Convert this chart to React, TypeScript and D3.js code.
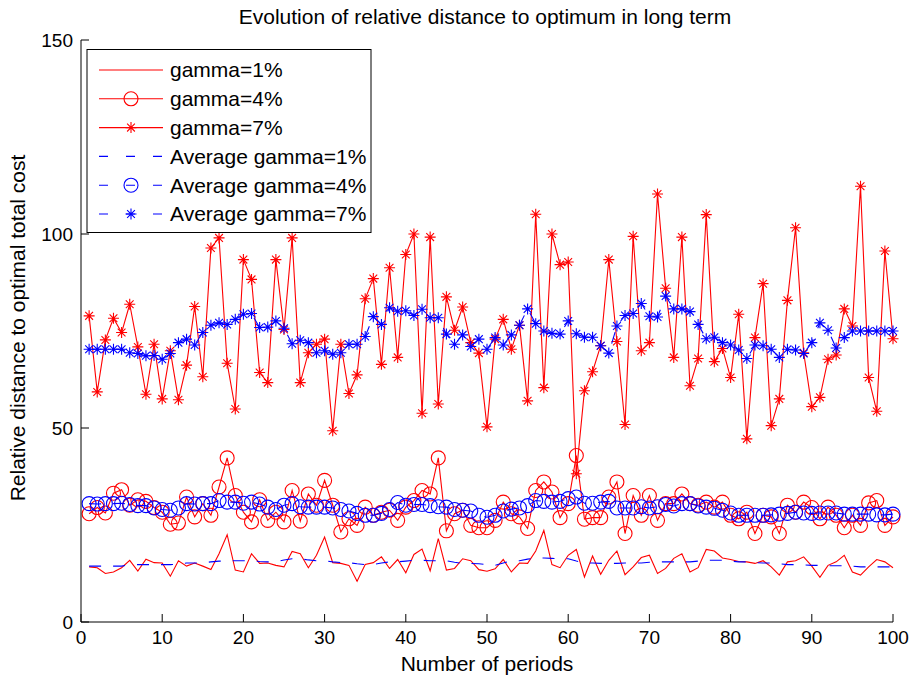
import { useEffect, useRef } from 'react';
import * as d3 from 'd3';

// values, periods 1..100
const gamma1 = [
  14.2, 14.0, 12.5, 12.9, 14.0, 15.9, 13.1, 16.2, 15.3, 15.2,
  11.8, 15.8, 14.4, 15.2, 14.4, 13.5, 17.6, 22.5, 13.4, 12.9,
  17.6, 15.1, 15.2, 14.6, 14.2, 18.2, 17.6, 14.0, 17.2, 21.9,
  15.3, 15.1, 14.6, 10.5, 14.8, 15.3, 16.8, 13.8, 16.1, 12.7,
  17.4, 18.8, 13.2, 21.5, 13.4, 13.8, 16.3, 15.8, 13.5, 13.1,
  13.7, 16.1, 12.9, 15.2, 15.1, 18.3, 23.6, 14.8, 14.0, 17.2,
  18.7, 11.6, 17.0, 12.3, 15.9, 18.3, 12.2, 14.2, 16.6, 17.2,
  12.5, 13.8, 16.4, 17.6, 12.9, 14.0, 18.7, 18.3, 16.5, 16.1,
  15.6, 15.5, 15.1, 15.8, 14.2, 12.1, 15.5, 15.8, 16.8, 14.4,
  11.5, 14.6, 15.5, 17.2, 12.9, 12.1, 14.2, 16.1, 15.5, 14.0,
];

const gamma4 = [
  27.9, 29.5, 28.1, 33.2, 34.1, 30.1, 31.5, 31.1, 29.5, 28.3,
  25.2, 25.5, 32.2, 27.1, 30.5, 27.5, 34.8, 42.3, 32.6, 28.3,
  25.8, 31.5, 26.2, 28.3, 25.8, 33.9, 26.0, 33.0, 30.1, 36.5,
  30.1, 23.2, 26.6, 24.9, 29.6, 27.5, 28.3, 28.8, 26.2, 29.6,
  31.3, 33.9, 33.0, 42.3, 23.5, 27.9, 28.8, 24.9, 24.3, 24.3,
  26.2, 30.9, 27.9, 27.1, 24.1, 33.9, 36.1, 33.5, 26.9, 30.5,
  42.9, 26.5, 26.9, 26.9, 32.2, 36.1, 22.8, 32.6, 27.5, 32.6,
  26.2, 30.5, 30.5, 33.0, 30.5, 30.1, 30.9, 29.6, 30.9, 27.5,
  26.6, 28.3, 22.8, 27.5, 27.1, 22.8, 30.1, 28.3, 30.9, 29.5,
  26.6, 29.6, 27.5, 24.3, 27.5, 24.9, 30.7, 31.3, 24.9, 27.1,
];

const gamma7 = [
  78.9, 59.3, 72.7, 78.3, 74.6, 81.9, 70.9, 58.7, 71.6, 57.5,
  69.9, 57.3, 66.2, 81.3, 63.2, 96.4, 99.0, 66.7, 54.9, 93.4,
  88.3, 64.3, 61.7, 93.4, 75.4, 99.0, 61.7, 69.4, 71.6, 72.9,
  49.3, 71.6, 58.9, 63.7, 83.3, 88.5, 66.4, 91.3, 68.2, 94.7,
  100.0, 53.8, 99.2, 56.2, 83.8, 75.2, 81.2, 72.0, 69.3, 50.3,
  72.9, 78.0, 70.3, 76.5, 57.0, 105.1, 60.4, 100.0, 92.1, 92.8,
  38.2, 59.6, 64.5, 71.2, 93.4, 72.3, 50.9, 99.4, 69.9, 72.0,
  110.3, 86.0, 68.2, 99.2, 60.9, 67.9, 105.0, 67.1, 70.5, 63.0,
  79.3, 47.2, 73.3, 87.2, 50.6, 57.5, 82.9, 101.6, 69.4, 55.5,
  57.9, 67.7, 68.8, 80.7, 76.3, 112.3, 63.0, 54.3, 95.6, 73.0,
];

const avg1 = [
  14.4, 14.4, 14.4, 14.4, 14.4, 14.8, 14.8, 14.8, 14.8, 14.8,
  14.8, 14.9, 15.2, 15.2, 15.2, 15.5, 15.7, 15.7, 15.8, 15.8,
  15.8, 15.6, 15.5, 15.5, 16.0, 16.3, 16.3, 16.0, 15.8, 15.8,
  15.5, 15.3, 15.3, 15.0, 14.8, 14.8, 15.2, 15.5, 15.5, 15.7,
  15.9, 15.9, 15.8, 15.8, 15.8, 15.4, 15.1, 15.1, 15.0, 14.8,
  14.6, 15.2, 15.8, 15.8, 16.2, 16.5, 16.5, 16.4, 16.3, 16.3,
  15.7, 15.2, 15.2, 15.1, 15.1, 15.1, 15.2, 15.2, 15.2, 15.4,
  15.5, 15.5, 15.5, 15.5, 15.5, 15.7, 15.9, 15.9, 15.9, 15.7,
  15.5, 15.5, 15.3, 15.2, 15.2, 15.0, 14.8, 14.8, 14.7, 14.6,
  14.6, 14.5, 14.5, 14.5, 14.4, 14.2, 14.2, 14.2, 14.2, 14.2,
];

const avg4 = [
  30.5, 30.4, 30.5, 30.5, 30.6, 30.3, 30.0, 30.0, 29.4, 29.0,
  28.8, 29.4, 30.5, 30.4, 30.5, 30.5, 31.3, 30.9, 30.9, 30.6,
  30.9, 30.4, 29.6, 29.0, 30.1, 30.5, 29.7, 29.6, 29.6, 29.6,
  29.4, 29.0, 28.6, 28.0, 27.5, 27.5, 28.0, 29.0, 30.8, 30.1,
  30.3, 30.3, 30.0, 29.7, 29.6, 29.0, 28.8, 28.6, 27.5, 27.0,
  27.5, 28.6, 29.1, 29.4, 30.0, 31.3, 31.1, 30.9, 31.1, 31.8,
  32.2, 30.6, 30.6, 30.9, 31.1, 29.4, 29.4, 29.4, 29.7, 29.4,
  29.7, 30.3, 29.9, 30.5, 30.5, 29.9, 29.6, 29.3, 28.8, 28.1,
  27.5, 27.5, 27.5, 27.5, 27.6, 27.8, 28.0, 28.3, 28.1, 28.0,
  28.1, 28.1, 28.1, 27.8, 27.8, 27.8, 27.8, 27.6, 27.6, 27.8,
];

const avg7 = [
  70.3, 70.3, 70.3, 70.3, 70.3, 69.4, 69.2, 68.6, 68.7, 67.7,
  69.2, 72.0, 72.9, 71.4, 74.6, 76.5, 77.1, 76.7, 78.0, 79.3,
  79.5, 75.9, 76.0, 77.6, 75.7, 71.7, 72.6, 72.0, 69.4, 69.9,
  69.0, 69.4, 71.6, 71.6, 73.6, 78.7, 76.7, 81.0, 80.1, 80.2,
  79.0, 80.6, 78.4, 78.4, 74.2, 71.6, 74.0, 71.0, 72.9, 70.3,
  73.3, 71.4, 74.0, 76.5, 80.7, 76.9, 75.0, 74.4, 74.2, 77.6,
  74.3, 73.4, 73.4, 71.2, 69.3, 76.3, 79.0, 79.5, 82.1, 78.8,
  78.6, 84.0, 80.7, 80.7, 80.0, 76.7, 73.0, 73.4, 72.0, 71.4,
  70.1, 67.9, 71.4, 71.2, 70.3, 68.2, 70.3, 70.1, 69.2, 72.0,
  77.1, 75.2, 70.6, 73.3, 75.0, 75.0, 75.0, 75.0, 75.0, 75.0,
];

const seriesNames = [
  'gamma=1%', 'gamma=4%', 'gamma=7%',
  'Average gamma=1%', 'Average gamma=4%', 'Average gamma=7%',
];
const xTicks = [0, 10, 20, 30, 40, 50, 60, 70, 80, 90, 100];
const yTicks = [0, 50, 100, 150];

const FONT = '"Liberation Sans", Arial, Helvetica, sans-serif';

function starPath(r: number) {
  const d = r / Math.SQRT2;
  return `M${-r},0H${r}M0,${-r}V${r}M${-d},${-d}L${d},${d}M${-d},${d}L${d},${-d}`;
}

export default function App() {
  const svgRef = useRef<SVGSVGElement>(null);
  const width = 912;
  const height = 682;

  useEffect(() => {
    document.body.style.margin = '0';
    const svg = d3.select(svgRef.current);
    svg.selectAll('*').remove();

    const left = 81, right = 893, top = 40, bottom = 622;
    const x = d3.scaleLinear().domain([0, 100]).range([left, right]);
    const y = d3.scaleLinear().domain([0, 150]).range([bottom, top]);

    const series = [
      { name: seriesNames[0], values: gamma1, color: '#ff0000', dash: null, marker: null },
      { name: seriesNames[1], values: gamma4, color: '#ff0000', dash: null, marker: 'circle' },
      { name: seriesNames[2], values: gamma7, color: '#ff0000', dash: null, marker: 'star' },
      { name: seriesNames[3], values: avg1, color: '#0000ff', dash: '12,12', marker: null },
      { name: seriesNames[4], values: avg4, color: '#0000ff', dash: '12,12', marker: 'circle' },
      { name: seriesNames[5], values: avg7, color: '#0000ff', dash: '12,12', marker: 'star' },
    ];

    const line = d3.line<number>()
      .x((_, i) => x(i + 1))
      .y(d => y(d));

    const plot = svg.append('g');

    series.forEach(s => {
      const g = plot.append('g');
      g.append('path')
        .attr('d', line(s.values))
        .attr('fill', 'none')
        .attr('stroke', s.color)
        .attr('stroke-width', 1.1)
        .attr('stroke-dasharray', s.dash);

      if (s.marker === 'circle') {
        g.selectAll('circle')
          .data(s.values)
          .enter().append('circle')
          .attr('cx', (_, i) => x(i + 1))
          .attr('cy', d => y(d))
          .attr('r', 7)
          .attr('fill', 'none')
          .attr('stroke', s.color)
          .attr('stroke-width', 1.1);
      } else if (s.marker === 'star') {
        g.selectAll('path.m')
          .data(s.values)
          .enter().append('path')
          .attr('class', 'm')
          .attr('transform', (d, i) => `translate(${x(i + 1)},${y(d)})`)
          .attr('d', starPath(5.5))
          .attr('fill', 'none')
          .attr('stroke', s.color)
          .attr('stroke-width', 1.1);
      }
    });

    // axes (box off, ticks pointing inward)
    const axes = svg.append('g').attr('stroke', '#000').attr('stroke-width', 1);
    axes.append('line').attr('x1', left).attr('x2', left).attr('y1', top).attr('y2', bottom);
    axes.append('line').attr('x1', left).attr('x2', right).attr('y1', bottom).attr('y2', bottom);

    axes.selectAll('line.xt')
      .data(xTicks)
      .enter().append('line')
      .attr('class', 'xt')
      .attr('x1', d => x(d)).attr('x2', d => x(d))
      .attr('y1', bottom).attr('y2', bottom - 8);

    axes.selectAll('line.yt')
      .data(yTicks)
      .enter().append('line')
      .attr('class', 'yt')
      .attr('x1', left).attr('x2', left + 8)
      .attr('y1', d => y(d)).attr('y2', d => y(d));

    svg.append('g')
      .selectAll('text')
      .data(xTicks)
      .enter().append('text')
      .attr('x', d => x(d))
      .attr('y', bottom + 22)
      .attr('text-anchor', 'middle')
      .style('font-family', FONT)
      .style('font-size', '19px')
      .text(d => d);

    svg.append('g')
      .selectAll('text')
      .data(yTicks)
      .enter().append('text')
      .attr('x', left - 8)
      .attr('y', d => y(d))
      .attr('dy', '0.35em')
      .attr('text-anchor', 'end')
      .style('font-family', FONT)
      .style('font-size', '19px')
      .text(d => d);

    svg.append('text')
      .attr('x', (left + right) / 2 - 2)
      .attr('y', 24)
      .attr('text-anchor', 'middle')
      .style('font-family', FONT)
      .style('font-size', '21px')
      .text('Evolution of relative distance to optimum in long term');

    svg.append('text')
      .attr('x', (left + right) / 2)
      .attr('y', 671)
      .attr('text-anchor', 'middle')
      .style('font-family', FONT)
      .style('font-size', '21px')
      .text('Number of periods');

    svg.append('text')
      .attr('transform', `translate(25,${(top + bottom) / 2 - 3}) rotate(-90)`)
      .attr('text-anchor', 'middle')
      .style('font-family', FONT)
      .style('font-size', '21px')
      .text('Relative distance to optimal total cost');

    // legend
    const legend = svg.append('g');
    legend.append('rect')
      .attr('x', 87).attr('y', 49.5)
      .attr('width', 284).attr('height', 183)
      .attr('fill', '#fff')
      .attr('stroke', '#000')
      .attr('stroke-width', 1);

    const rowY = d3.scaleLinear().domain([0, 5]).range([70, 214]);
    series.forEach((s, i) => {
      const cy = rowY(i);
      const row = legend.append('g');
      row.append('line')
        .attr('x1', 99).attr('x2', 163)
        .attr('y1', cy).attr('y2', cy)
        .attr('stroke', s.color)
        .attr('stroke-width', 1.1)
        .attr('stroke-dasharray', s.dash ? '9,18' : null);
      if (s.marker === 'circle') {
        row.append('circle')
          .attr('cx', 131).attr('cy', cy).attr('r', 7)
          .attr('fill', 'none').attr('stroke', s.color).attr('stroke-width', 1.1);
      } else if (s.marker === 'star') {
        row.append('path')
          .attr('transform', `translate(131,${cy})`)
          .attr('d', starPath(5.5))
          .attr('fill', 'none').attr('stroke', s.color).attr('stroke-width', 1.1);
      }
      row.append('text')
        .attr('x', 170).attr('y', cy)
        .attr('dy', '0.35em')
        .style('font-family', FONT)
        .style('font-size', '21px')
        .text(s.name);
    });
  }, []);

  return <svg ref={svgRef} width={width} height={height} style={{ display: 'block', background: '#fff' }} />;
}
